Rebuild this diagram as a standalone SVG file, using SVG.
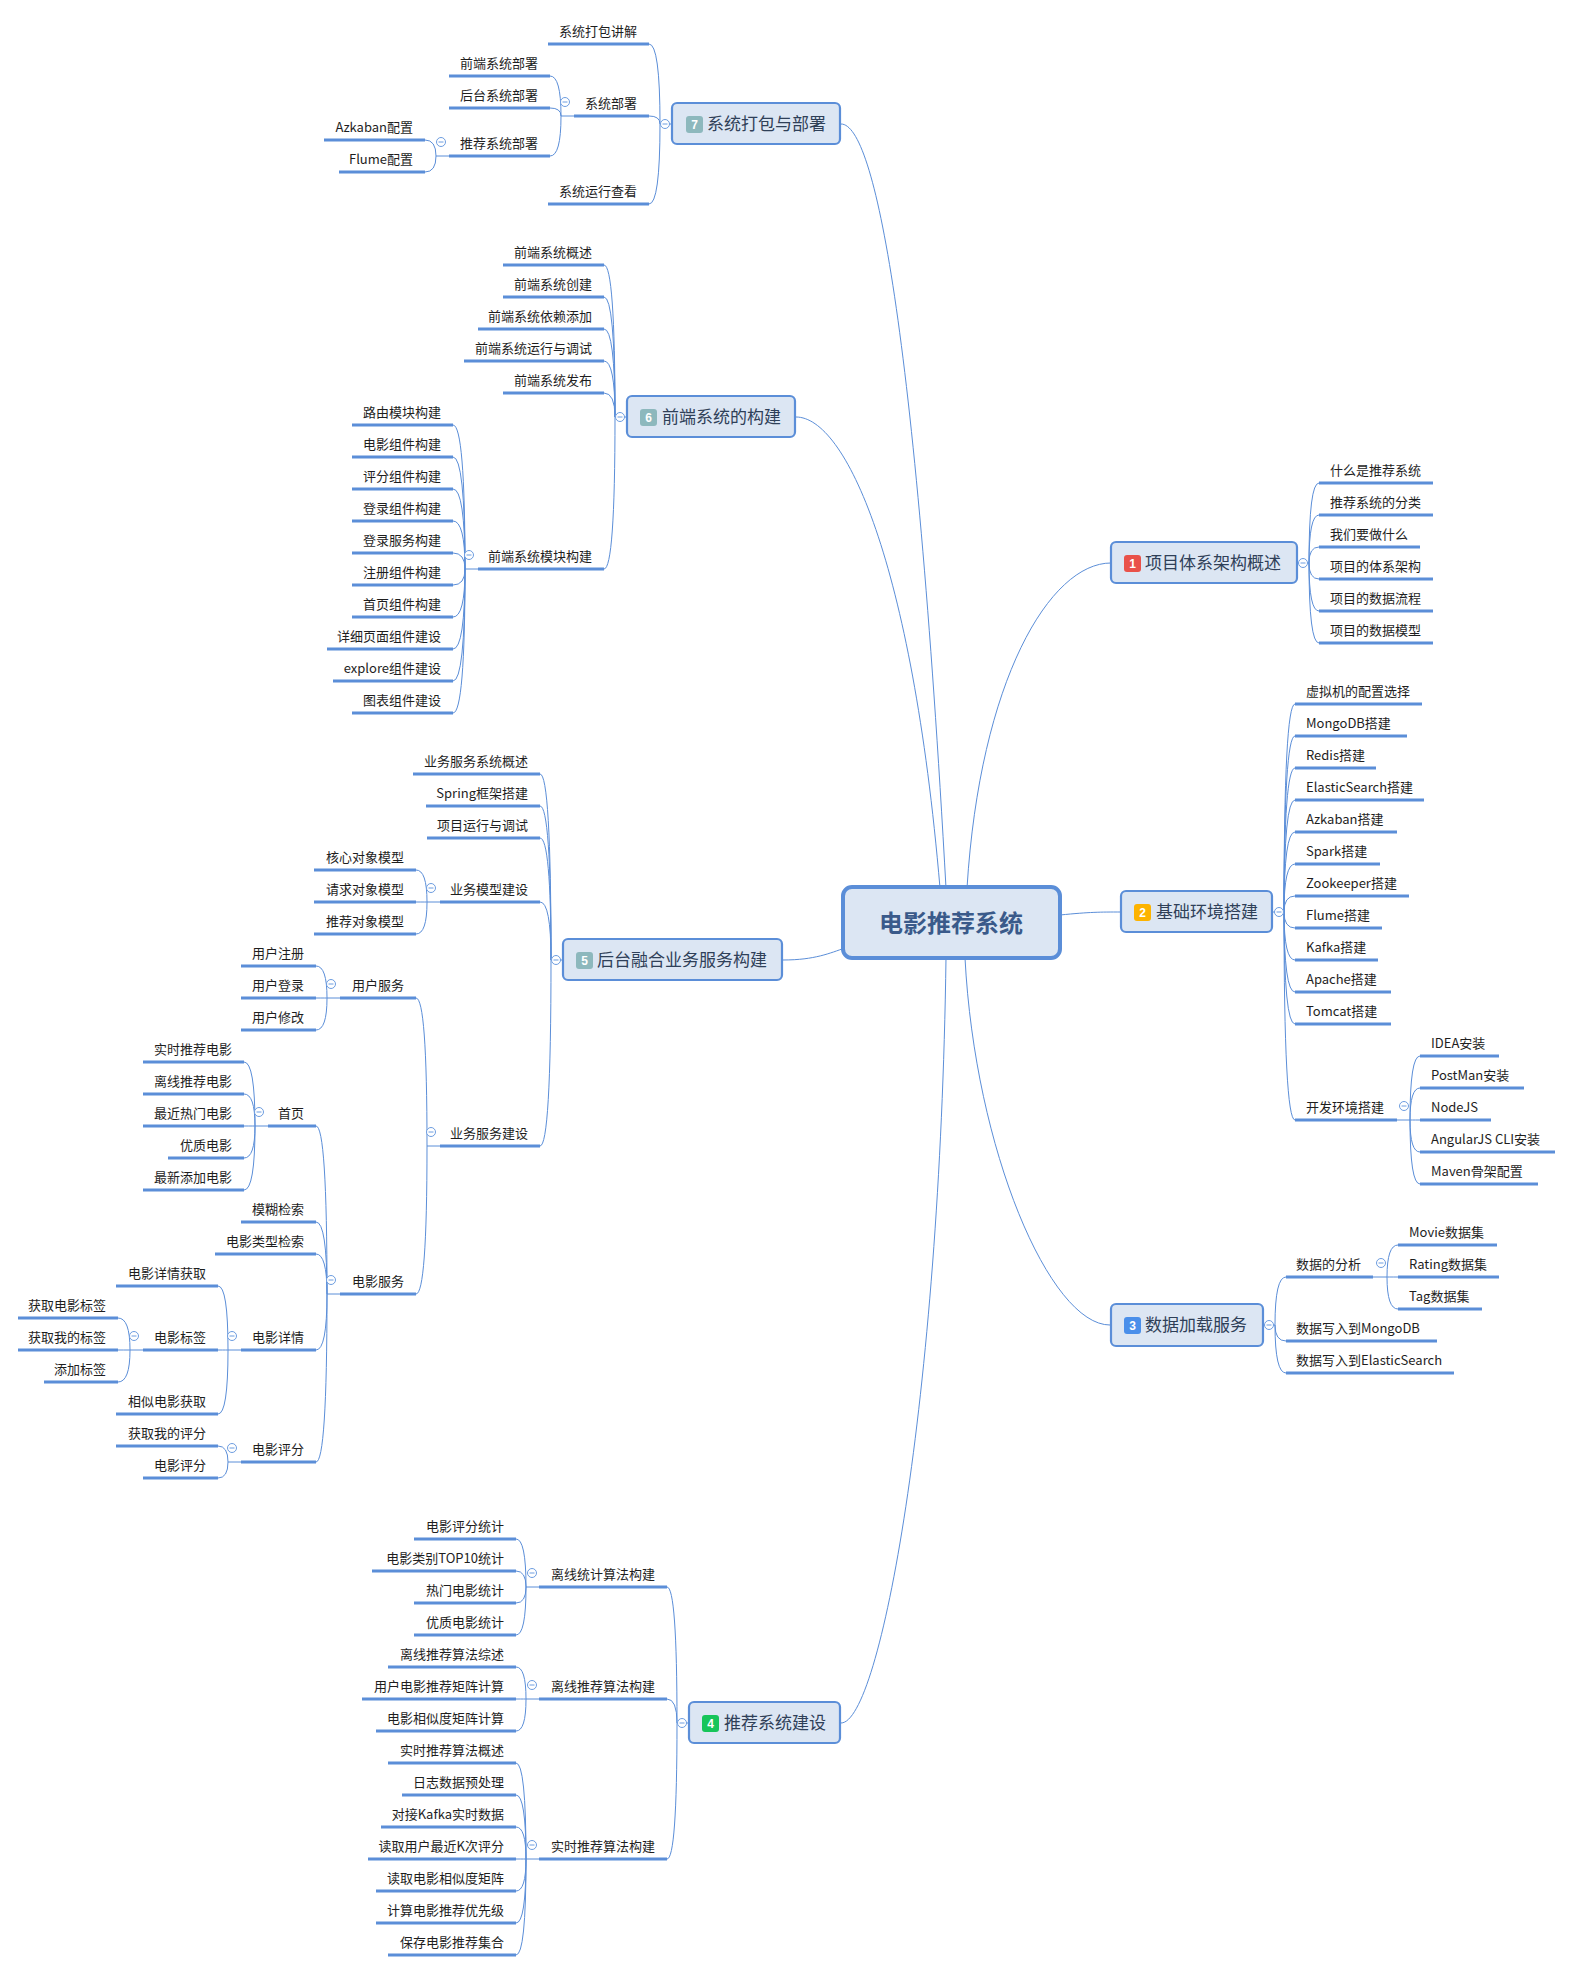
<svg xmlns="http://www.w3.org/2000/svg" xmlns:xlink="http://www.w3.org/1999/xlink" width="1572" height="1972" viewBox="0 0 1572 1972">
<style>
.t{font-family:"Noto Sans CJK SC","Microsoft YaHei",sans-serif;font-size:13px;fill:#1e1e1e}
.e{text-anchor:end}
.u{stroke:#5B8ED8;stroke-width:3}
.c{fill:none;stroke:#5B8ED8;stroke-width:1}
.box{fill:#DCE6F3;stroke:#5B8ED8;stroke-width:2.2}
.bt{font-family:"Noto Sans CJK SC","Microsoft YaHei",sans-serif;font-size:17px;fill:#2F4058}
.bn{font-family:"Liberation Sans",Arial,sans-serif;font-size:12px;font-weight:bold;fill:#fff;text-anchor:middle}
</style>
<defs>
<g id="tog"><circle r="4.5" fill="#fff" stroke="#6D9DE0" stroke-width="1"/><line x1="-2.5" y1="0" x2="2.5" y2="0" stroke="#6D9DE0" stroke-width="1"/></g>
</defs>
<rect width="1572" height="1972" fill="#fff"/>

<g id="connectors">
<!-- main branches -->
<path class="c" d="M841,124 C875,124 915,330 946,888"/>
<path class="c" d="M796,417 C845,417 912,560 940,888"/>
<path class="c" d="M1111,563 C1050,563 980,680 967,888"/>
<path class="c" d="M1060,915 C1090,912 1100,912 1121,912"/>
<path class="c" d="M783,960 C815,960 830,953 845,948"/>
<path class="c" d="M841,1723 C880,1723 940,1400 946,958"/>
<path class="c" d="M1110,1325 C1050,1325 975,1150 965,958"/>
<!-- branch 7 -->
<path class="c" d="M672,124H660 M660,124Q660,44 649,44 M660,124Q660,116 649,116 M660,124Q660,204 649,204"/>
<path class="c" d="M574,116H561 M561,116Q561,76 550,76 M561,116Q561,108 550,108 M561,116Q561,156 550,156"/>
<path class="c" d="M449,156H436 M436,156Q436,140 425,140 M436,156Q436,172 425,172"/>
<!-- branch 6 -->
<path class="c" d="M627,417H615 M615,417Q615,265 604,265 M615,417Q615,297 604,297 M615,417Q615,329 604,329 M615,417Q615,361 604,361 M615,417Q615,393 604,393 M615,417Q615,569 604,569"/>
<path class="c" d="M478,569H465 M465,569Q465,425 453,425 M465,569Q465,457 453,457 M465,569Q465,489 453,489 M465,569Q465,521 453,521 M465,569Q465,553 453,553 M465,569Q465,585 453,585 M465,569Q465,617 453,617 M465,569Q465,649 453,649 M465,569Q465,681 453,681 M465,569Q465,713 453,713"/>
<!-- branch 5 -->
<path class="c" d="M563,960H551 M551,960Q551,774 540,774 M551,960Q551,806 540,806 M551,960Q551,838 540,838 M551,960Q551,902 540,902 M551,960Q551,1146 540,1146"/>
<path class="c" d="M440,902H427 M427,902Q427,870 416,870 M427,902Q427,902 416,902 M427,902Q427,934 416,934"/>
<path class="c" d="M440,1146H427 M427,1146Q427,998 416,998 M427,1146Q427,1294 416,1294"/>
<path class="c" d="M340,998H327 M327,998Q327,966 316,966 M327,998Q327,998 316,998 M327,998Q327,1030 316,1030"/>
<path class="c" d="M340,1294H327 M327,1294Q327,1126 316,1126 M327,1294Q327,1222 316,1222 M327,1294Q327,1254 316,1254 M327,1294Q327,1350 316,1350 M327,1294Q327,1462 316,1462"/>
<path class="c" d="M268,1126H255 M255,1126Q255,1062 244,1062 M255,1126Q255,1094 244,1094 M255,1126Q255,1126 244,1126 M255,1126Q255,1158 244,1158 M255,1126Q255,1190 244,1190"/>
<path class="c" d="M241,1350H228 M228,1350Q228,1286 218,1286 M228,1350Q228,1350 218,1350 M228,1350Q228,1414 218,1414"/>
<path class="c" d="M143,1350H130 M130,1350Q130,1318 118,1318 M130,1350Q130,1350 118,1350 M130,1350Q130,1382 118,1382"/>
<path class="c" d="M241,1462H228 M228,1462Q228,1446 218,1446 M228,1462Q228,1478 218,1478"/>
<!-- branch 4 -->
<path class="c" d="M689,1723H677 M677,1723Q677,1587 667,1587 M677,1723Q677,1699 667,1699 M677,1723Q677,1859 667,1859"/>
<path class="c" d="M539,1587H526 M526,1587Q526,1539 516,1539 M526,1587Q526,1571 516,1571 M526,1587Q526,1603 516,1603 M526,1587Q526,1635 516,1635"/>
<path class="c" d="M539,1699H526 M526,1699Q526,1667 516,1667 M526,1699Q526,1699 516,1699 M526,1699Q526,1731 516,1731"/>
<path class="c" d="M539,1859H526 M526,1859Q526,1763 516,1763 M526,1859Q526,1795 516,1795 M526,1859Q526,1827 516,1827 M526,1859Q526,1859 516,1859 M526,1859Q526,1891 516,1891 M526,1859Q526,1923 516,1923 M526,1859Q526,1955 516,1955"/>
<!-- branch 1 -->
<path class="c" d="M1297,563H1309 M1309,563Q1309,483 1319,483 M1309,563Q1309,515 1319,515 M1309,563Q1309,547 1319,547 M1309,563Q1309,579 1319,579 M1309,563Q1309,611 1319,611 M1309,563Q1309,643 1319,643"/>
<!-- branch 2 -->
<path class="c" d="M1272,912H1284 M1284,912Q1284,704 1295,704 M1284,912Q1284,736 1295,736 M1284,912Q1284,768 1295,768 M1284,912Q1284,800 1295,800 M1284,912Q1284,832 1295,832 M1284,912Q1284,864 1295,864 M1284,912Q1284,896 1295,896 M1284,912Q1284,928 1295,928 M1284,912Q1284,960 1295,960 M1284,912Q1284,992 1295,992 M1284,912Q1284,1024 1295,1024 M1284,912Q1284,1120 1295,1120"/>
<path class="c" d="M1397,1120H1410 M1410,1120Q1410,1056 1420,1056 M1410,1120Q1410,1088 1420,1088 M1410,1120Q1410,1120 1420,1120 M1410,1120Q1410,1152 1420,1152 M1410,1120Q1410,1184 1420,1184"/>
<!-- branch 3 -->
<path class="c" d="M1263,1325H1275 M1275,1325Q1275,1277 1286,1277 M1275,1325Q1275,1341 1286,1341 M1275,1325Q1275,1373 1286,1373"/>
<path class="c" d="M1373,1277H1387 M1387,1277Q1387,1245 1398,1245 M1387,1277Q1387,1277 1398,1277 M1387,1277Q1387,1309 1398,1309"/>
</g>

<g id="root">
<rect x="843" y="887" width="217" height="71" rx="9" fill="#DCE6F3" stroke="#5B8ED8" stroke-width="4"/>
<text x="951" y="932" text-anchor="middle" style="font-family:'Noto Sans CJK SC','Microsoft YaHei',sans-serif;font-size:24px;font-weight:bold;fill:#3A5A8A">电影推荐系统</text>
</g>

<!-- main topics -->
<g id="m1"><rect class="box" x="1111" y="542" width="186" height="41" rx="5"/><rect x="1124" y="555" width="17" height="17" rx="3" fill="#E9524A"/><text class="bn" x="1132.5" y="568">1</text><text class="bt" x="1145" y="569">项目体系架构概述</text></g>
<g id="m2"><rect class="box" x="1121" y="891" width="151" height="41" rx="5"/><rect x="1134" y="904" width="17" height="17" rx="3" fill="#FDB300"/><text class="bn" x="1142.5" y="917">2</text><text class="bt" x="1156" y="918">基础环境搭建</text></g>
<g id="m3"><rect class="box" x="1111" y="1304" width="152" height="42" rx="5"/><rect x="1124" y="1317" width="17" height="17" rx="3" fill="#4A8FEA"/><text class="bn" x="1132.5" y="1330">3</text><text class="bt" x="1145" y="1331">数据加载服务</text></g>
<g id="m4"><rect class="box" x="689" y="1702" width="151" height="41" rx="5"/><rect x="702" y="1715" width="17" height="17" rx="3" fill="#17C55A"/><text class="bn" x="710.5" y="1728">4</text><text class="bt" x="724" y="1729">推荐系统建设</text></g>
<g id="m5"><rect class="box" x="563" y="939" width="219" height="41" rx="5"/><rect x="576" y="952" width="17" height="17" rx="3" fill="#8DB8BD"/><text class="bn" x="584.5" y="965">5</text><text class="bt" x="597" y="966">后台融合业务服务构建</text></g>
<g id="m6"><rect class="box" x="627" y="396" width="168" height="41" rx="5"/><rect x="640" y="409" width="17" height="17" rx="3" fill="#8DB8BD"/><text class="bn" x="648.5" y="422">6</text><text class="bt" x="662" y="423">前端系统的构建</text></g>
<g id="m7"><rect class="box" x="672" y="103" width="168" height="41" rx="5"/><rect x="686" y="116" width="17" height="17" rx="3" fill="#8DB8BD"/><text class="bn" x="694.5" y="129">7</text><text class="bt" x="707" y="130">系统打包与部署</text></g>

<!-- branch 7 -->
<g id="n7a"><text class="t e" x="637" y="36">系统打包讲解</text><line class="u" x1="548" y1="44" x2="649" y2="44"/></g>
<g id="n7b"><text class="t e" x="637" y="108">系统部署</text><line class="u" x1="574" y1="116" x2="649" y2="116"/></g>
<g id="n7c"><text class="t e" x="637" y="196">系统运行查看</text><line class="u" x1="548" y1="204" x2="649" y2="204"/></g>
<g id="n7b1"><text class="t e" x="538" y="68">前端系统部署</text><line class="u" x1="449" y1="76" x2="550" y2="76"/></g>
<g id="n7b2"><text class="t e" x="538" y="100">后台系统部署</text><line class="u" x1="449" y1="108" x2="550" y2="108"/></g>
<g id="n7b3"><text class="t e" x="538" y="148">推荐系统部署</text><line class="u" x1="449" y1="156" x2="550" y2="156"/></g>
<g id="n7b3a"><text class="t e" x="413" y="132">Azkaban配置</text><line class="u" x1="324" y1="140" x2="425" y2="140"/></g>
<g id="n7b3b"><text class="t e" x="413" y="164">Flume配置</text><line class="u" x1="339" y1="172" x2="425" y2="172"/></g>

<!-- branch 6 -->
<g id="n6a"><text class="t e" x="592" y="257">前端系统概述</text><line class="u" x1="503" y1="265" x2="604" y2="265"/></g>
<g id="n6b"><text class="t e" x="592" y="289">前端系统创建</text><line class="u" x1="503" y1="297" x2="604" y2="297"/></g>
<g id="n6c"><text class="t e" x="592" y="321">前端系统依赖添加</text><line class="u" x1="478" y1="329" x2="604" y2="329"/></g>
<g id="n6d"><text class="t e" x="592" y="353">前端系统运行与调试</text><line class="u" x1="464" y1="361" x2="604" y2="361"/></g>
<g id="n6e"><text class="t e" x="592" y="385">前端系统发布</text><line class="u" x1="503" y1="393" x2="604" y2="393"/></g>
<g id="n6f"><text class="t e" x="592" y="561">前端系统模块构建</text><line class="u" x1="478" y1="569" x2="604" y2="569"/></g>
<g id="n6f1"><text class="t e" x="441" y="417">路由模块构建</text><line class="u" x1="352" y1="425" x2="453" y2="425"/></g>
<g id="n6f2"><text class="t e" x="441" y="449">电影组件构建</text><line class="u" x1="352" y1="457" x2="453" y2="457"/></g>
<g id="n6f3"><text class="t e" x="441" y="481">评分组件构建</text><line class="u" x1="352" y1="489" x2="453" y2="489"/></g>
<g id="n6f4"><text class="t e" x="441" y="513">登录组件构建</text><line class="u" x1="352" y1="521" x2="453" y2="521"/></g>
<g id="n6f5"><text class="t e" x="441" y="545">登录服务构建</text><line class="u" x1="352" y1="553" x2="453" y2="553"/></g>
<g id="n6f6"><text class="t e" x="441" y="577">注册组件构建</text><line class="u" x1="352" y1="585" x2="453" y2="585"/></g>
<g id="n6f7"><text class="t e" x="441" y="609">首页组件构建</text><line class="u" x1="352" y1="617" x2="453" y2="617"/></g>
<g id="n6f8"><text class="t e" x="441" y="641">详细页面组件建设</text><line class="u" x1="327" y1="649" x2="453" y2="649"/></g>
<g id="n6f9"><text class="t e" x="441" y="673">explore组件建设</text><line class="u" x1="333" y1="681" x2="453" y2="681"/></g>
<g id="n6f10"><text class="t e" x="441" y="705">图表组件建设</text><line class="u" x1="352" y1="713" x2="453" y2="713"/></g>

<!-- branch 5 -->
<g id="n5a"><text class="t e" x="528" y="766">业务服务系统概述</text><line class="u" x1="413" y1="774" x2="540" y2="774"/></g>
<g id="n5b"><text class="t e" x="528" y="798">Spring框架搭建</text><line class="u" x1="426" y1="806" x2="540" y2="806"/></g>
<g id="n5c"><text class="t e" x="528" y="830">项目运行与调试</text><line class="u" x1="427" y1="838" x2="540" y2="838"/></g>
<g id="n5d"><text class="t e" x="528" y="894">业务模型建设</text><line class="u" x1="440" y1="902" x2="540" y2="902"/></g>
<g id="n5e"><text class="t e" x="528" y="1138">业务服务建设</text><line class="u" x1="440" y1="1146" x2="540" y2="1146"/></g>
<g id="n5d1"><text class="t e" x="404" y="862">核心对象模型</text><line class="u" x1="314" y1="870" x2="416" y2="870"/></g>
<g id="n5d2"><text class="t e" x="404" y="894">请求对象模型</text><line class="u" x1="314" y1="902" x2="416" y2="902"/></g>
<g id="n5d3"><text class="t e" x="404" y="926">推荐对象模型</text><line class="u" x1="314" y1="934" x2="416" y2="934"/></g>
<g id="n5e1"><text class="t e" x="404" y="990">用户服务</text><line class="u" x1="340" y1="998" x2="416" y2="998"/></g>
<g id="n5e2"><text class="t e" x="404" y="1286">电影服务</text><line class="u" x1="340" y1="1294" x2="416" y2="1294"/></g>
<g id="n5e1a"><text class="t e" x="304" y="958">用户注册</text><line class="u" x1="241" y1="966" x2="316" y2="966"/></g>
<g id="n5e1b"><text class="t e" x="304" y="990">用户登录</text><line class="u" x1="241" y1="998" x2="316" y2="998"/></g>
<g id="n5e1c"><text class="t e" x="304" y="1022">用户修改</text><line class="u" x1="241" y1="1030" x2="316" y2="1030"/></g>
<g id="n5e2a"><text class="t e" x="304" y="1118">首页</text><line class="u" x1="268" y1="1126" x2="316" y2="1126"/></g>
<g id="n5e2b"><text class="t e" x="304" y="1214">模糊检索</text><line class="u" x1="241" y1="1222" x2="316" y2="1222"/></g>
<g id="n5e2c"><text class="t e" x="304" y="1246">电影类型检索</text><line class="u" x1="215" y1="1254" x2="316" y2="1254"/></g>
<g id="n5e2d"><text class="t e" x="304" y="1342">电影详情</text><line class="u" x1="241" y1="1350" x2="316" y2="1350"/></g>
<g id="n5e2e"><text class="t e" x="304" y="1454">电影评分</text><line class="u" x1="241" y1="1462" x2="316" y2="1462"/></g>
<g id="n5e2a1"><text class="t e" x="232" y="1054">实时推荐电影</text><line class="u" x1="143" y1="1062" x2="244" y2="1062"/></g>
<g id="n5e2a2"><text class="t e" x="232" y="1086">离线推荐电影</text><line class="u" x1="143" y1="1094" x2="244" y2="1094"/></g>
<g id="n5e2a3"><text class="t e" x="232" y="1118">最近热门电影</text><line class="u" x1="143" y1="1126" x2="244" y2="1126"/></g>
<g id="n5e2a4"><text class="t e" x="232" y="1150">优质电影</text><line class="u" x1="168" y1="1158" x2="244" y2="1158"/></g>
<g id="n5e2a5"><text class="t e" x="232" y="1182">最新添加电影</text><line class="u" x1="143" y1="1190" x2="244" y2="1190"/></g>
<g id="n5e2d1"><text class="t e" x="206" y="1278">电影详情获取</text><line class="u" x1="116" y1="1286" x2="218" y2="1286"/></g>
<g id="n5e2d2"><text class="t e" x="206" y="1342">电影标签</text><line class="u" x1="143" y1="1350" x2="218" y2="1350"/></g>
<g id="n5e2d3"><text class="t e" x="206" y="1406">相似电影获取</text><line class="u" x1="116" y1="1414" x2="218" y2="1414"/></g>
<g id="n5e2d2a"><text class="t e" x="106" y="1310">获取电影标签</text><line class="u" x1="18" y1="1318" x2="118" y2="1318"/></g>
<g id="n5e2d2b"><text class="t e" x="106" y="1342">获取我的标签</text><line class="u" x1="18" y1="1350" x2="118" y2="1350"/></g>
<g id="n5e2d2c"><text class="t e" x="106" y="1374">添加标签</text><line class="u" x1="44" y1="1382" x2="118" y2="1382"/></g>
<g id="n5e2e1"><text class="t e" x="206" y="1438">获取我的评分</text><line class="u" x1="116" y1="1446" x2="218" y2="1446"/></g>
<g id="n5e2e2"><text class="t e" x="206" y="1470">电影评分</text><line class="u" x1="143" y1="1478" x2="218" y2="1478"/></g>

<!-- branch 4 -->
<g id="n4a"><text class="t e" x="655" y="1579">离线统计算法构建</text><line class="u" x1="539" y1="1587" x2="667" y2="1587"/></g>
<g id="n4b"><text class="t e" x="655" y="1691">离线推荐算法构建</text><line class="u" x1="539" y1="1699" x2="667" y2="1699"/></g>
<g id="n4c"><text class="t e" x="655" y="1851">实时推荐算法构建</text><line class="u" x1="539" y1="1859" x2="667" y2="1859"/></g>
<g id="n4a1"><text class="t e" x="504" y="1531">电影评分统计</text><line class="u" x1="414" y1="1539" x2="516" y2="1539"/></g>
<g id="n4a2"><text class="t e" x="504" y="1563">电影类别TOP10统计</text><line class="u" x1="372" y1="1571" x2="516" y2="1571"/></g>
<g id="n4a3"><text class="t e" x="504" y="1595">热门电影统计</text><line class="u" x1="414" y1="1603" x2="516" y2="1603"/></g>
<g id="n4a4"><text class="t e" x="504" y="1627">优质电影统计</text><line class="u" x1="414" y1="1635" x2="516" y2="1635"/></g>
<g id="n4b1"><text class="t e" x="504" y="1659">离线推荐算法综述</text><line class="u" x1="388" y1="1667" x2="516" y2="1667"/></g>
<g id="n4b2"><text class="t e" x="504" y="1691">用户电影推荐矩阵计算</text><line class="u" x1="362" y1="1699" x2="516" y2="1699"/></g>
<g id="n4b3"><text class="t e" x="504" y="1723">电影相似度矩阵计算</text><line class="u" x1="376" y1="1731" x2="516" y2="1731"/></g>
<g id="n4c1"><text class="t e" x="504" y="1755">实时推荐算法概述</text><line class="u" x1="388" y1="1763" x2="516" y2="1763"/></g>
<g id="n4c2"><text class="t e" x="504" y="1787">日志数据预处理</text><line class="u" x1="402" y1="1795" x2="516" y2="1795"/></g>
<g id="n4c3"><text class="t e" x="504" y="1819">对接Kafka实时数据</text><line class="u" x1="381" y1="1827" x2="516" y2="1827"/></g>
<g id="n4c4"><text class="t e" x="504" y="1851">读取用户最近K次评分</text><line class="u" x1="368" y1="1859" x2="516" y2="1859"/></g>
<g id="n4c5"><text class="t e" x="504" y="1883">读取电影相似度矩阵</text><line class="u" x1="376" y1="1891" x2="516" y2="1891"/></g>
<g id="n4c6"><text class="t e" x="504" y="1915">计算电影推荐优先级</text><line class="u" x1="376" y1="1923" x2="516" y2="1923"/></g>
<g id="n4c7"><text class="t e" x="504" y="1947">保存电影推荐集合</text><line class="u" x1="388" y1="1955" x2="516" y2="1955"/></g>

<!-- branch 1 -->
<g id="n1a"><text class="t" x="1330" y="475">什么是推荐系统</text><line class="u" x1="1319" y1="483" x2="1433" y2="483"/></g>
<g id="n1b"><text class="t" x="1330" y="507">推荐系统的分类</text><line class="u" x1="1319" y1="515" x2="1433" y2="515"/></g>
<g id="n1c"><text class="t" x="1330" y="539">我们要做什么</text><line class="u" x1="1319" y1="547" x2="1420" y2="547"/></g>
<g id="n1d"><text class="t" x="1330" y="571">项目的体系架构</text><line class="u" x1="1319" y1="579" x2="1433" y2="579"/></g>
<g id="n1e"><text class="t" x="1330" y="603">项目的数据流程</text><line class="u" x1="1319" y1="611" x2="1433" y2="611"/></g>
<g id="n1f"><text class="t" x="1330" y="635">项目的数据模型</text><line class="u" x1="1319" y1="643" x2="1433" y2="643"/></g>

<!-- branch 2 -->
<g id="n2a"><text class="t" x="1306" y="696">虚拟机的配置选择</text><line class="u" x1="1295" y1="704" x2="1422" y2="704"/></g>
<g id="n2b"><text class="t" x="1306" y="728">MongoDB搭建</text><line class="u" x1="1295" y1="736" x2="1407" y2="736"/></g>
<g id="n2c"><text class="t" x="1306" y="760">Redis搭建</text><line class="u" x1="1295" y1="768" x2="1376" y2="768"/></g>
<g id="n2d"><text class="t" x="1306" y="792">ElasticSearch搭建</text><line class="u" x1="1295" y1="800" x2="1424" y2="800"/></g>
<g id="n2e"><text class="t" x="1306" y="824">Azkaban搭建</text><line class="u" x1="1295" y1="832" x2="1397" y2="832"/></g>
<g id="n2f"><text class="t" x="1306" y="856">Spark搭建</text><line class="u" x1="1295" y1="864" x2="1380" y2="864"/></g>
<g id="n2g"><text class="t" x="1306" y="888">Zookeeper搭建</text><line class="u" x1="1295" y1="896" x2="1409" y2="896"/></g>
<g id="n2h"><text class="t" x="1306" y="920">Flume搭建</text><line class="u" x1="1295" y1="928" x2="1382" y2="928"/></g>
<g id="n2i"><text class="t" x="1306" y="952">Kafka搭建</text><line class="u" x1="1295" y1="960" x2="1378" y2="960"/></g>
<g id="n2j"><text class="t" x="1306" y="984">Apache搭建</text><line class="u" x1="1295" y1="992" x2="1391" y2="992"/></g>
<g id="n2k"><text class="t" x="1306" y="1016">Tomcat搭建</text><line class="u" x1="1295" y1="1024" x2="1391" y2="1024"/></g>
<g id="n2l"><text class="t" x="1306" y="1112">开发环境搭建</text><line class="u" x1="1295" y1="1120" x2="1397" y2="1120"/></g>
<g id="n2l1"><text class="t" x="1431" y="1048">IDEA安装</text><line class="u" x1="1420" y1="1056" x2="1499" y2="1056"/></g>
<g id="n2l2"><text class="t" x="1431" y="1080">PostMan安装</text><line class="u" x1="1420" y1="1088" x2="1524" y2="1088"/></g>
<g id="n2l3"><text class="t" x="1431" y="1112">NodeJS</text><line class="u" x1="1420" y1="1120" x2="1491" y2="1120"/></g>
<g id="n2l4"><text class="t" x="1431" y="1144">AngularJS CLI安装</text><line class="u" x1="1420" y1="1152" x2="1555" y2="1152"/></g>
<g id="n2l5"><text class="t" x="1431" y="1176">Maven骨架配置</text><line class="u" x1="1420" y1="1184" x2="1538" y2="1184"/></g>

<!-- branch 3 -->
<g id="n3a"><text class="t" x="1296" y="1269">数据的分析</text><line class="u" x1="1286" y1="1277" x2="1373" y2="1277"/></g>
<g id="n3b"><text class="t" x="1296" y="1333">数据写入到MongoDB</text><line class="u" x1="1286" y1="1341" x2="1437" y2="1341"/></g>
<g id="n3c"><text class="t" x="1296" y="1365">数据写入到ElasticSearch</text><line class="u" x1="1286" y1="1373" x2="1454" y2="1373"/></g>
<g id="n3a1"><text class="t" x="1409" y="1237">Movie数据集</text><line class="u" x1="1398" y1="1245" x2="1497" y2="1245"/></g>
<g id="n3a2"><text class="t" x="1409" y="1269">Rating数据集</text><line class="u" x1="1398" y1="1277" x2="1499" y2="1277"/></g>
<g id="n3a3"><text class="t" x="1409" y="1301">Tag数据集</text><line class="u" x1="1398" y1="1309" x2="1482" y2="1309"/></g>

<g id="toggles">
<use xlink:href="#tog" x="665" y="124"/>
<use xlink:href="#tog" x="565" y="102"/>
<use xlink:href="#tog" x="441" y="142"/>
<use xlink:href="#tog" x="620" y="417"/>
<use xlink:href="#tog" x="469" y="555"/>
<use xlink:href="#tog" x="556" y="960"/>
<use xlink:href="#tog" x="431" y="888"/>
<use xlink:href="#tog" x="431" y="1132"/>
<use xlink:href="#tog" x="331" y="984"/>
<use xlink:href="#tog" x="331" y="1280"/>
<use xlink:href="#tog" x="259" y="1112"/>
<use xlink:href="#tog" x="232" y="1336"/>
<use xlink:href="#tog" x="134" y="1336"/>
<use xlink:href="#tog" x="232" y="1448"/>
<use xlink:href="#tog" x="682" y="1723"/>
<use xlink:href="#tog" x="532" y="1573"/>
<use xlink:href="#tog" x="532" y="1685"/>
<use xlink:href="#tog" x="532" y="1845"/>
<use xlink:href="#tog" x="1303" y="563"/>
<use xlink:href="#tog" x="1279" y="912"/>
<use xlink:href="#tog" x="1404" y="1106"/>
<use xlink:href="#tog" x="1269" y="1325"/>
<use xlink:href="#tog" x="1381" y="1263"/>
</g>
</svg>
